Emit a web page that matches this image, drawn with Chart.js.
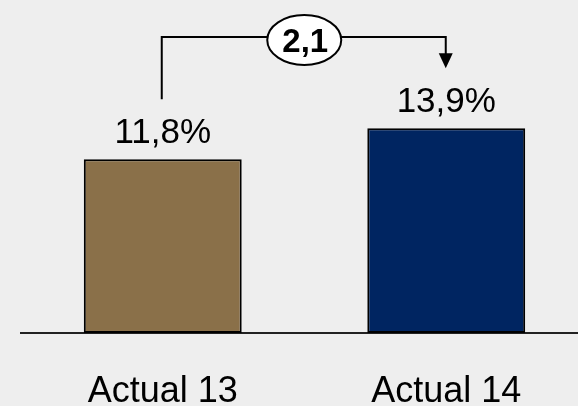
<!DOCTYPE html>
<html>
<head>
<meta charset="utf-8">
<script src="https://cdn.jsdelivr.net/npm/chart.js@4"></script>
<style>
    html, body { margin: 0; padding: 0; background: #eeeeee; overflow: hidden; }
    #wrap { width: 588px; height: 406px; }
</style>
</head>
<body>
<div id="wrap"><canvas id="chart" width="588" height="406"></canvas></div>
<script>
// Dados do gráfico
const categories = ['Actual 13', 'Actual 14'];
const values = [11.8, 13.9];
const barColors = ['#8a7049', '#002561'];

const fontFamily = '"Liberation Sans", Arial, sans-serif';

// Formata número com vírgula decimal
const fmt = (v) => v.toFixed(1).replace('.', ',');

// Plugin para rótulos, categorias e o conector com a diferença
const annotations = {
    id: 'annotations',
    afterDatasetsDraw(chart) {
        const ctx = chart.ctx;
        const x = chart.scales.x;
        const y = chart.scales.y;
        const area = chart.chartArea;

        ctx.save();
        ctx.fillStyle = '#000';
        ctx.textAlign = 'center';
        ctx.textBaseline = 'alphabetic';

        // Valores acima das barras
        ctx.font = '35px ' + fontFamily;
        values.forEach((v, i) => {
            ctx.fillText(fmt(v) + '%', x.getPixelForValue(i), y.getPixelForValue(v) - 16);
        });

        // Rótulos das categorias
        ctx.font = '36px ' + fontFamily;
        categories.forEach((c, i) => {
            ctx.fillText(c, x.getPixelForValue(i), area.bottom + 69);
        });

        // Conector entre as barras
        const x1 = x.getPixelForValue(0) - 1;
        const x2 = x.getPixelForValue(1) - 0.5;
        const yStart = y.getPixelForValue(values[0]) - 60;
        const yTop = area.top + 37;
        const yTip = y.getPixelForValue(values[1]) - 60;

        ctx.strokeStyle = '#000';
        ctx.lineWidth = 2;
        ctx.beginPath();
        ctx.moveTo(x1, yStart);
        ctx.lineTo(x1, yTop);
        ctx.lineTo(x2, yTop);
        ctx.lineTo(x2, yTip - 14);
        ctx.stroke();

        ctx.beginPath();
        ctx.moveTo(x2 - 7, yTip - 15);
        ctx.lineTo(x2 + 7, yTip - 15);
        ctx.lineTo(x2, yTip);
        ctx.closePath();
        ctx.fill();

        // Elipse com a diferença
        const cx = (x1 + x2) / 2 + 0.5;
        const cy = yTop + 3;
        ctx.beginPath();
        ctx.ellipse(cx, cy, 37, 25, 0, 0, Math.PI * 2);
        ctx.fillStyle = '#ffffff';
        ctx.fill();
        ctx.stroke();

        ctx.fillStyle = '#000';
        ctx.font = 'bold 33px ' + fontFamily;
        ctx.textBaseline = 'alphabetic';
        ctx.fillText(fmt(values[1] - values[0]), cx + 1, cy + 12);

        ctx.restore();
    }
};

new Chart(document.getElementById('chart'), {
    type: 'bar',
    data: {
        labels: categories,
        datasets: [{
            data: values,
            backgroundColor: barColors,
            borderColor: '#000',
            borderWidth: 2,
            borderSkipped: false,
            categoryPercentage: 1,
            barPercentage: 0.557,
        }]
    },
    options: {
        responsive: false,
        animation: false,
        layout: { padding: { left: 21, right: 0, top: 0, bottom: 73 } },
        plugins: {
            legend: { display: false },
            tooltip: { enabled: false },
        },
        scales: {
            x: {
                grid: { display: false },
                border: { display: true, color: '#222', width: 2 },
                ticks: { display: false },
                afterFit(scale) { scale.height = 0; },
            },
            y: {
                display: false,
                min: 0,
                max: 22.6,
            }
        }
    },
    plugins: [annotations]
});
</script>
</body>
</html>
